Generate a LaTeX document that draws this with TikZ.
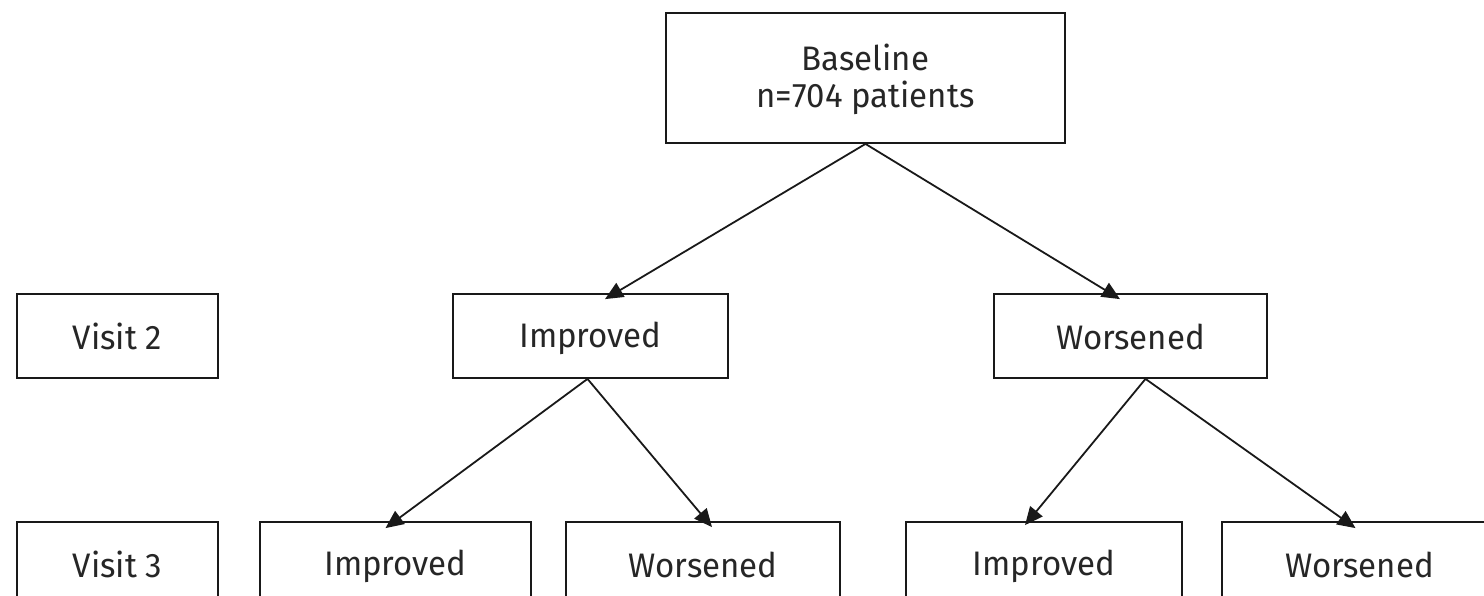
\documentclass[tikz,border=0pt]{standalone}
\usepackage{fontspec}
\setmainfont[FakeStretch=0.97]{Fira Sans}
\usetikzlibrary{arrows.meta}
\newcommand{\lblstrut}{\rule[-3pt]{0pt}{33pt}}
\begin{document}
\begin{tikzpicture}[x=1pt,y=-1pt,
  box/.style={draw=black!90, line width=1.8pt, minimum height=84pt, inner sep=0pt,
    font=\fontsize{34}{37}\selectfont, text=black!85, align=center},
  arr/.style={draw=black!90, line width=1.8pt, -{Triangle[length=18pt,width=16pt]}}]
\useasboundingbox (0,0) rectangle (1484,595);
\clip (0,0) rectangle (1484,595);
\node[box, minimum width=399pt, minimum height=130pt] (b) at (865.5,78) {\lblstrut Baseline\\\lblstrut n=704 patients};
\node[box, minimum width=201pt] (v2) at (117.5,336) {\lblstrut Visit 2};
\node[box, minimum width=275pt] (i2) at (590.5,336) {\lblstrut Improved};
\node[box, minimum width=273pt] (w2) at (1130.5,336) {\lblstrut Worsened};
\node[box, minimum width=201pt] (v3) at (117.5,564) {\lblstrut Visit 3};
\node[box, minimum width=271pt] (i3a) at (395.5,564) {\lblstrut Improved};
\node[box, minimum width=274pt] (w3a) at (703,564) {\lblstrut Worsened};
\node[box, minimum width=276pt] (i3b) at (1044,564) {\lblstrut Improved};
\node[box, minimum width=275pt] (w3b) at (1359.5,564) {\lblstrut Worsened};
\draw[arr] (b.south) -- ([xshift=14.5pt,yshift=-6pt]i2.north);
\draw[arr] (b.south) -- ([xshift=-10.5pt,yshift=-6pt]w2.north);
\draw[arr] ([xshift=-3pt]i2.south) -- ([xshift=-10pt,yshift=-7pt]i3a.north);
\draw[arr] ([xshift=-3pt]i2.south) -- ([xshift=9pt,yshift=-6pt]w3a.north);
\draw[arr] ([xshift=15pt]w2.south) -- ([xshift=-19pt,yshift=-4pt]i3b.north);
\draw[arr] ([xshift=15pt]w2.south) -- ([xshift=-4pt,yshift=-7pt]w3b.north);
\end{tikzpicture}
\end{document}
